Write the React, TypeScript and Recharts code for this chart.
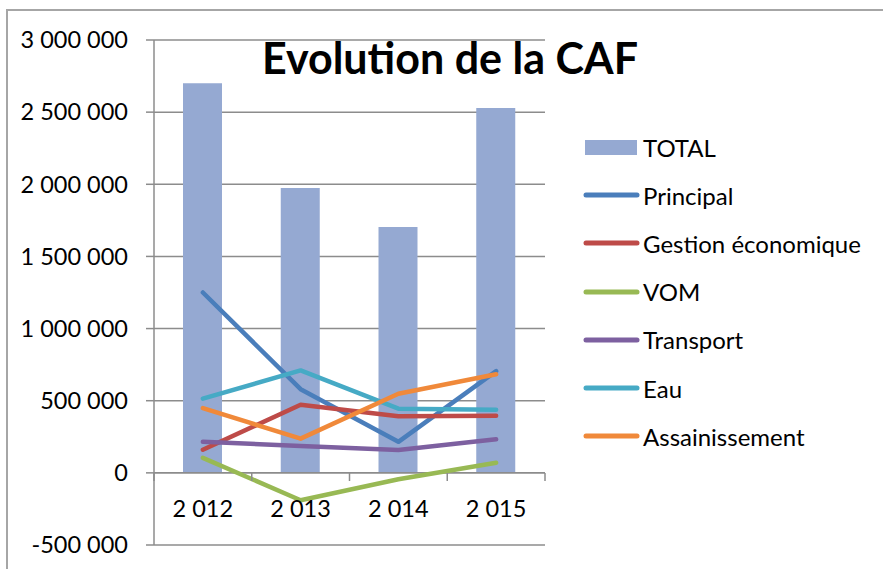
import React from "react";
import {
  ComposedChart,
  Bar,
  Line,
  XAxis,
  YAxis,
  CartesianGrid,
  Legend,
  ReferenceLine,
} from "recharts";

const years = ["2 012", "2 013", "2 014", "2 015"];
const total = [2700000, 1974000, 1704000, 2528000];
const principal = [1250000, 580000, 215000, 705000];
const gestion = [160000, 472000, 392000, 396000];
const vom = [104000, -190000, -44000, 70000];
const transport = [215000, 186000, 158000, 233000];
const eau = [514000, 710000, 445000, 438000];
const assainissement = [449000, 237000, 548000, 683000];
const yTicks = [-500000, 0, 500000, 1000000, 1500000, 2000000, 2500000, 3000000];

const series = [
  { key: "Principal", values: principal, color: "#4A7EBB" },
  { key: "Gestion économique", values: gestion, color: "#BE4B48" },
  { key: "VOM", values: vom, color: "#98B954" },
  { key: "Transport", values: transport, color: "#7D60A0" },
  { key: "Eau", values: eau, color: "#46AAC5" },
  { key: "Assainissement", values: assainissement, color: "#F0893A" },
];

const data = years.map((y, i) => {
  const row: Record<string, string | number> = { year: y, TOTAL: total[i] };
  series.forEach((s) => {
    row[s.key] = s.values[i];
  });
  return row;
});

const FONT = "Lato, 'Noto Sans', sans-serif";
const GRID = "#8c8c8c";

const fmt = (v: number) => {
  const neg = v < 0;
  const s = Math.abs(v)
    .toString()
    .replace(/\B(?=(\d{3})+(?!\d))/g, " ");
  return (neg ? "-" : "") + s;
};

const PLOT_LEFT = 154;
const PLOT_RIGHT = 545;
const BAND = (PLOT_RIGHT - PLOT_LEFT) / years.length;

const XTick = (props: any) => {
  const { x, payload, index } = props;
  return (
    <g>
      <line x1={x - BAND / 2} x2={x - BAND / 2} y1={473} y2={481} stroke={GRID} strokeWidth={1.5} />
      {index === years.length - 1 && (
        <line x1={x + BAND / 2} x2={x + BAND / 2} y1={473} y2={481} stroke={GRID} strokeWidth={1.5} />
      )}
      <text x={x} y={517} textAnchor="middle" fontFamily={FONT} fontSize={23.5} fill="#000">
        {payload.value}
      </text>
    </g>
  );
};

const LegendContent = () => {
  const items = [{ key: "TOTAL", color: "#95A9D2", bar: true }, ...series.map((s) => ({ key: s.key, color: s.color, bar: false }))];
  return (
    <div style={{ fontFamily: FONT, fontSize: 24, color: "#000" }}>
      {items.map((it) => (
        <div key={it.key} style={{ display: "flex", alignItems: "center", height: 48.2 }}>
          <svg width={58} height={20} style={{ display: "block" }}>
            {it.bar ? (
              <rect x={2} y={3} width={52} height={15} fill={it.color} />
            ) : (
              <line x1={3} x2={54} y1={10} y2={10} stroke={it.color} strokeWidth={5} strokeLinecap="round" />
            )}
          </svg>
          <span style={{ marginLeft: 2 }}>{it.key}</span>
        </div>
      ))}
    </div>
  );
};

export default function App() {
  return (
    <div style={{ position: "absolute", left: 0, top: 0, width: 883, height: 569, background: "#fff", overflow: "hidden" }}>
      <div
        style={{
          position: "absolute",
          left: 6,
          top: 9,
          width: 900,
          height: 600,
          border: "2px solid #a6a6a6",
        }}
      />
      <ComposedChart
        width={883}
        height={569}
        data={data}
        margin={{ top: 40, right: 883 - PLOT_RIGHT, bottom: 0, left: 0 }}
        style={{ position: "absolute", left: 0, top: 0 }}
      >
        <CartesianGrid vertical={false} stroke={GRID} strokeWidth={1.5} />
        <XAxis
          dataKey="year"
          height={24}
          axisLine={false}
          tickLine={false}
          tick={<XTick />}
          interval={0}
        />
        <YAxis
          width={PLOT_LEFT}
          domain={[-500000, 3000000]}
          ticks={yTicks}
          interval={0}
          tickFormatter={fmt}
          axisLine={{ stroke: GRID, strokeWidth: 1.5 }}
          tickLine={{ stroke: GRID, strokeWidth: 1.5 }}
          tickSize={8}
          tickMargin={18}
          tick={{ fontFamily: FONT, fontSize: 23.5, fill: "#000" }}
        />
        <ReferenceLine y={0} stroke={GRID} strokeWidth={1.5} />
        <Bar dataKey="TOTAL" fill="#95A9D2" barSize={39} isAnimationActive={false} />
        {series.map((s) => (
          <Line
            key={s.key}
            type="linear"
            dataKey={s.key}
            stroke={s.color}
            strokeWidth={4.5}
            strokeLinecap="round"
            strokeLinejoin="round"
            dot={false}
            activeDot={false}
            isAnimationActive={false}
          />
        ))}
        <Legend
          layout="vertical"
          align="center"
          verticalAlign="middle"
          content={<LegendContent />}
          wrapperStyle={{ left: 583, top: 123, width: 300 }}
        />
      </ComposedChart>
      <div
        style={{
          position: "absolute",
          left: 200,
          width: 500,
          top: 30,
          textAlign: "center",
          fontFamily: FONT,
          fontWeight: 700,
          fontSize: 43,
          lineHeight: "56px",
          color: "#000",
        }}
      >
        Evolution de la CAF
      </div>
    </div>
  );
}
